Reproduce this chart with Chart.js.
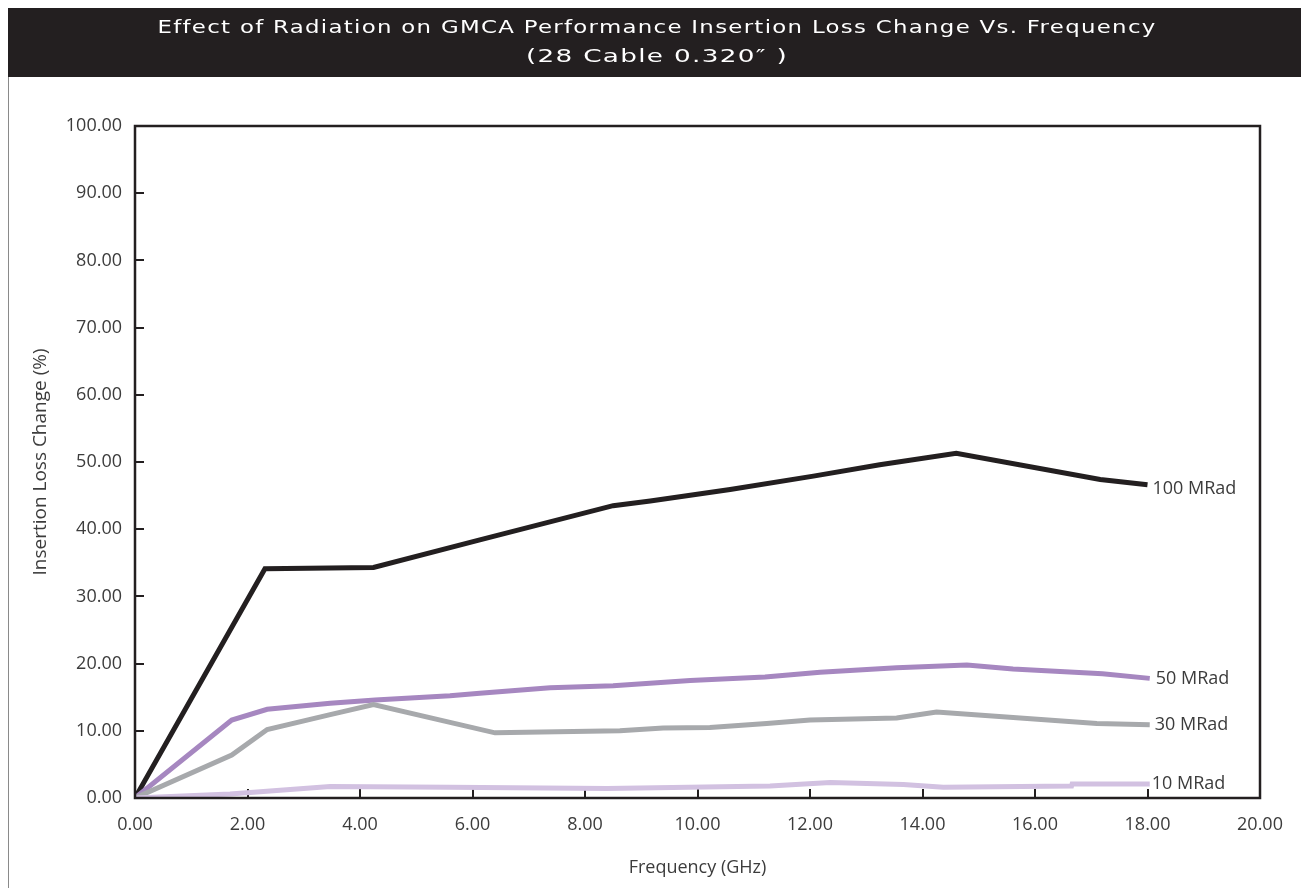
<!DOCTYPE html>
<html><head><meta charset="utf-8">
<script src="https://cdn.jsdelivr.net/npm/chart.js@4.4.1/dist/chart.umd.min.js"></script>
<style>
html,body{margin:0;padding:0;background:#fff;}
canvas{display:block;}
</style></head>
<body>
<canvas id="c" width="1301" height="888"></canvas>
<script>
// ---- data ----
const titleLines = ['Effect of Radiation on GMCA Performance Insertion Loss Change Vs. Frequency', '(28 Cable 0.320\u2033 )'];
const xAxisTitle = 'Frequency (GHz)';
const yAxisTitle = 'Insertion Loss Change (%)';
const seriesNames = ['100 MRad', '50 MRad', '30 MRad', '10 MRad'];

const freq100 = [0, 2.31, 4.24, 6.13, 8.5, 9.16, 10.58, 12.06, 13.24, 14.6, 17.16, 18.0];
const loss100 = [0, 34.1, 34.3, 38.4, 43.5, 44.2, 45.9, 47.9, 49.6, 51.3, 47.4, 46.6];

const freq50 = [0, 1.72, 2.35, 3.47, 4.27, 5.6, 6.13, 7.38, 8.5, 9.87, 11.2, 12.18, 13.54, 14.79, 15.61, 17.2, 18.04];
const loss50 = [0, 11.6, 13.2, 14.1, 14.6, 15.2, 15.6, 16.4, 16.7, 17.5, 18.0, 18.7, 19.4, 19.8, 19.2, 18.5, 17.8];

const freq30 = [0, 1.72, 2.35, 3.47, 4.24, 6.4, 8.62, 9.39, 10.22, 11.23, 12.0, 13.54, 14.25, 17.1, 18.04];
const loss30 = [0, 6.4, 10.2, 12.4, 13.9, 9.7, 10.0, 10.4, 10.5, 11.1, 11.6, 11.9, 12.8, 11.1, 10.9];

const freq10 = [0, 1.69, 3.47, 5.6, 8.39, 11.29, 12.36, 13.66, 14.37, 16.65, 16.66, 18.04];
const loss10 = [0, 0.6, 1.7, 1.6, 1.4, 1.8, 2.3, 2.0, 1.6, 1.8, 2.1, 2.1];

const xTickValues = [0, 2, 4, 6, 8, 10, 12, 14, 16, 18, 20];
const yTickValues = [0, 10, 20, 30, 40, 50, 60, 70, 80, 90, 100];

// ---- styles ----
const colors = ['#231f20', '#a687c0', '#a7a9ac', '#d2c1e1'];
const labelOffsets = [[5, 4], [6, 0], [5, 0], [2, 0]];
const axisFont = {family: "'Open Sans', 'Liberation Sans', sans-serif", size: 18};
const yTitleFont = {family: "'Open Sans', 'Liberation Sans', sans-serif", size: 19};
const textColor = '#3c3c3c';

function pts(xs, ys) { return xs.map((x, i) => ({x: x, y: ys[i]})); }

const allSeries = [[freq100, loss100], [freq50, loss50], [freq30, loss30], [freq10, loss10]];

const datasets = allSeries.map((s, i) => ({
  label: seriesNames[i],
  data: pts(s[0], s[1]),
  borderColor: colors[i],
  backgroundColor: colors[i],
  borderWidth: 5,
  pointRadius: 0,
  tension: 0,
  fill: false,
  borderJoinStyle: 'miter',
  borderCapStyle: 'butt'
})).reverse();

const frame = {
  id: 'frame',
  beforeDraw(chart) {
    const ctx = chart.ctx;
    ctx.save();
    ctx.fillStyle = '#fff';
    ctx.fillRect(0, 0, chart.width, chart.height);
    ctx.strokeStyle = '#8a8a8a';
    ctx.lineWidth = 1;
    ctx.beginPath(); ctx.moveTo(8.5, 8); ctx.lineTo(8.5, chart.height); ctx.stroke();
    ctx.fillStyle = '#231f20';
    ctx.fillRect(8, 8, chart.width - 8, 69);
    ctx.fillStyle = '#ffffff';
    ctx.textAlign = 'center';
    ctx.textBaseline = 'middle';
    ctx.font = "18.5px 'DejaVu Sans', sans-serif";
    const targets = [999, 262];
    const ys = [28, 57];
    const spacing = 1.3;
    titleLines.forEach((t, i) => {
      ctx.letterSpacing = '0px';
      const w = ctx.measureText(t).width;
      const sx = (targets[i] - spacing * t.length) / w;
      ctx.save();
      ctx.translate(657, ys[i]);
      ctx.scale(sx, 1);
      ctx.letterSpacing = (spacing / sx).toFixed(2) + 'px';
      ctx.fillText(t, 0, 0);
      ctx.restore();
    });
    ctx.letterSpacing = '0px';
    ctx.restore();
  },
  afterDatasetsDraw(chart) {
    const ctx = chart.ctx;
    const a = chart.chartArea;
    ctx.save();
    ctx.strokeStyle = '#231f20';
    ctx.lineWidth = 2.5;
    ctx.strokeRect(a.left, a.top, a.right - a.left, a.bottom - a.top);
    ctx.fillStyle = textColor;
    ctx.font = "18px 'Open Sans', 'Liberation Sans', sans-serif";
    ctx.textAlign = 'left';
    ctx.textBaseline = 'middle';
    chart.data.datasets.forEach((ds, di) => {
      const meta = chart.getDatasetMeta(di);
      const last = meta.data[meta.data.length - 1];
      const idx = seriesNames.indexOf(ds.label);
      const off = labelOffsets[idx];
      ctx.fillText(ds.label, last.x + off[0], last.y + off[1]);
    });
    ctx.restore();
  }
};

new Chart(document.getElementById('c'), {
  type: 'line',
  data: {datasets: datasets},
  options: {
    responsive: false,
    animation: false,
    devicePixelRatio: 1,
    layout: {padding: {top: 126, right: 41, left: 0, bottom: 0}},
    plugins: {legend: {display: false}, title: {display: false}, tooltip: {enabled: false}},
    scales: {
      x: {
        type: 'linear', min: 0, max: 20,
        afterBuildTicks(s) { s.ticks = xTickValues.map(v => ({value: v})); },
        afterFit(s) { s.height = 90; s.paddingLeft = 0; s.paddingRight = 0; },
        ticks: {font: axisFont, color: textColor, padding: 25, callback: v => Number(v).toFixed(2), maxRotation: 0, autoSkip: false},
        grid: {drawOnChartArea: false, drawTicks: true, tickLength: -9, color: '#231f20', lineWidth: 2},
        border: {display: false},
        title: {display: true, text: xAxisTitle, font: axisFont, color: textColor, padding: {top: 0, bottom: 9}}
      },
      y: {
        type: 'linear', min: 0, max: 100,
        afterBuildTicks(s) { s.ticks = yTickValues.map(v => ({value: v})); },
        afterFit(s) { s.width = 135; s.paddingTop = 0; s.paddingBottom = 0; },
        ticks: {font: axisFont, color: textColor, padding: 22, callback: v => Number(v).toFixed(2), autoSkip: false},
        grid: {drawOnChartArea: false, drawTicks: true, tickLength: -9, color: '#231f20', lineWidth: 2},
        border: {display: false},
        title: {display: true, text: yAxisTitle, font: yTitleFont, color: textColor, padding: {top: 29, bottom: 0}}
      }
    }
  },
  plugins: [frame]
});
</script>
</body></html>
